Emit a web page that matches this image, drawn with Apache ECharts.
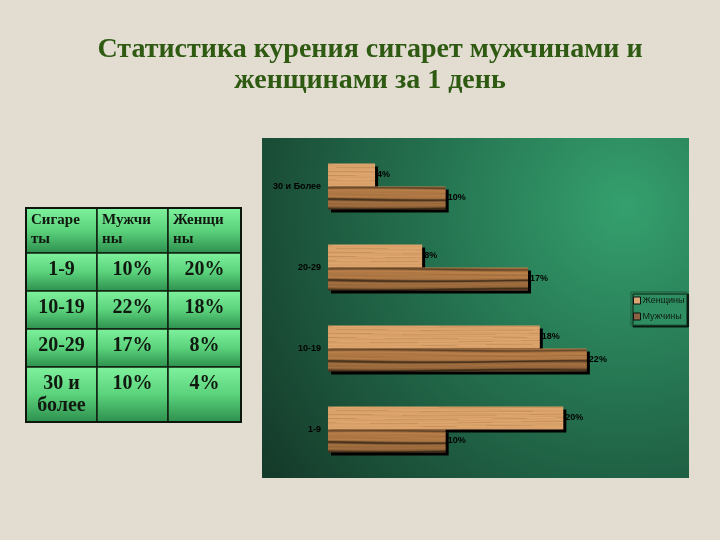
<!DOCTYPE html>
<html><head><meta charset="utf-8">
<script src="https://cdn.jsdelivr.net/npm/echarts@6/dist/echarts.min.js"></script>
<style>html,body{margin:0;padding:0;background:#e2dcd1}#c{width:720px;height:540px}</style>
</head><body><div id="c"></div>
<script>
// ---- data ----
var chartCategories = ['1-9', '10-19', '20-29', '30 и Более'];
var tableCategories = ['1-9', '10-19', '20-29', '30 и\nболее'];
var menValues = [10, 22, 17, 10];
var womenValues = [20, 18, 8, 4];
var seriesNames = ['Женщины', 'Мужчины'];
var tableHeaders = ['Сигаре\nты', 'Мужчи\nны', 'Женщи\nны'];
var titleText = 'Статистика курения сигарет мужчинами и\nженщинами за 1 день';

// ---- wood textures (decoration only) ----
function makeWood(kind) {
  var w = 640, h = 81;
  var cv = document.createElement('canvas'); cv.width = w; cv.height = h;
  var ctx = cv.getContext('2d');
  var img = ctx.createImageData(w, h);
  var off = kind === 'w' ? 1.5 : 24.5;
  for (var y = 0; y < h; y++) {
    for (var x = 0; x < w; x++) {
      var r = ((y - off) % h + h) % h;
      var rr = r + 0.7 * Math.sin(x * 0.021 + r * 0.15);
      var n = 0.5 * Math.sin(rr * 1.9 + 2 * Math.sin(x * 0.017 + rr * 0.3)) + 0.3 * Math.sin(rr * 4.3 + x * 0.011);
      var R, G, B;
      if (kind === 'w') {
        R = 218; G = 162; B = 106;
        var k = n * 8;
        var line = Math.abs(Math.sin(rr * 0.83 + x * 0.003));
        if (line > 0.97) k -= 16;
        R += k; G += k * 0.85; B += k * 0.7;
      } else {
        R = 190; G = 130; B = 74;
        function g(c, s) { return Math.exp(-((rr - c) * (rr - c)) / (2 * s * s)); }
        var d = 0.45 * g(1.2, 1.0) + 0.55 * g(12.5, 1.0) + 0.6 * g(21.5, 1.2) + 0.18 * g(17, 3) + 0.1 * g(7, 2);
        var k2 = n * 9;
        R = R * (1 - d) + k2; G = G * (1 - d) + k2 * 0.8; B = B * (1 - d) + k2 * 0.6;
      }
      var i = (y * w + x) * 4;
      img.data[i] = Math.max(0, Math.min(255, R));
      img.data[i + 1] = Math.max(0, Math.min(255, G));
      img.data[i + 2] = Math.max(0, Math.min(255, B));
      img.data[i + 3] = 255;
    }
  }
  ctx.putImageData(img, 0, 0);
  return cv;
}
var womenWood = { image: makeWood('w'), repeat: 'repeat' };
var menWood = { image: makeWood('m'), repeat: 'repeat' };

// ---- table graphics ----
var colX = [26, 97, 168, 241];
var rowY = [208, 253, 291, 329, 367, 422];
var graphics = [];
// green chart panel
graphics.push({
  type: 'rect', z: -10, silent: true,
  shape: { x: 262, y: 138, width: 427, height: 340 },
  style: {
    fill: { type: 'radial', x: 0.85, y: 0.2, r: 1.3,
      colorStops: [{ offset: 0, color: '#35a06e' }, { offset: 0.45, color: '#24714f' }, { offset: 1, color: '#153b2a' }] }
  }
});
function cellFill() {
  return { type: 'linear', x: 0, y: 0, x2: 0, y2: 1,
    colorStops: [{ offset: 0, color: '#80f29e' }, { offset: 0.5, color: '#5bd27c' }, { offset: 1, color: '#2c8e4c' }] };
}
for (var r = 0; r < rowY.length - 1; r++) {
  for (var c = 0; c < colX.length - 1; c++) {
    graphics.push({
      type: 'rect', silent: true,
      shape: { x: colX[c], y: rowY[r], width: colX[c + 1] - colX[c], height: rowY[r + 1] - rowY[r] },
      style: { fill: cellFill(), stroke: '#102010', lineWidth: 1.5 }
    });
  }
}
graphics.push({
  type: 'rect', silent: true,
  shape: { x: colX[0], y: rowY[0], width: colX[3] - colX[0], height: rowY[5] - rowY[0] },
  style: { fill: null, stroke: '#0c160c', lineWidth: 2 }
});
for (var c = 0; c < 3; c++) {
  graphics.push({
    type: 'text', silent: true,
    style: { text: tableHeaders[c], x: colX[c] + 5, y: rowY[0] + 3, align: 'left', verticalAlign: 'top',
      font: 'bold 15px "Liberation Serif", serif', lineHeight: 19, fill: '#101810' }
  });
}
for (var i = 0; i < tableCategories.length; i++) {
  var vals = [tableCategories[i], menValues[i] + '%', womenValues[i] + '%'];
  for (var c = 0; c < 3; c++) {
    graphics.push({
      type: 'text', silent: true,
      style: { text: vals[c], x: (colX[c] + colX[c + 1]) / 2, y: rowY[i + 1] + 6, align: 'center', verticalAlign: 'top',
        font: 'bold 20px "Liberation Serif", serif', lineHeight: 22, fill: '#101810' }
    });
  }
}

var chart = echarts.init(document.getElementById('c'));
chart.setOption({
  animation: false,
  backgroundColor: '#e2dcd1',
  title: {
    text: titleText, left: 365, top: 29, textAlign: 'center',
    textStyle: { fontFamily: '"Liberation Serif", serif', fontWeight: 'bold', fontSize: 28, color: '#2e5a12', lineHeight: 31 }
  },
  graphic: graphics,
  legend: {
    orient: 'vertical', left: 631, top: 292, padding: [4, 2, 4, 2], itemGap: 7,
    itemWidth: 7, itemHeight: 7, icon: 'rect',
    backgroundColor: '#2f8e61', borderColor: '#1c5a3c', borderWidth: 1,
    shadowColor: '#0a1a10', shadowOffsetX: 2, shadowOffsetY: 2, shadowBlur: 0,
    textStyle: { fontFamily: 'Arial, "Liberation Sans"', fontSize: 9, color: '#0e1a12', padding: [0, 0, 0, -3] },
    data: [
      { name: seriesNames[0], itemStyle: { color: '#d9a874', borderColor: '#111', borderWidth: 1 } },
      { name: seriesNames[1], itemStyle: { color: '#8a6442', borderColor: '#111', borderWidth: 1 } }
    ]
  },
  grid: { left: 328, right: 39, top: 146, bottom: 70, containLabel: false },
  xAxis: { type: 'value', min: 0, max: 30, show: false, splitLine: { show: false } },
  yAxis: {
    type: 'category', data: chartCategories,
    axisLine: { show: false },
    axisTick: { show: false },
    axisLabel: { margin: 7, fontFamily: 'Arial, "Liberation Sans"', fontWeight: 'bold', fontSize: 9, color: '#000' }
  },
  series: [
    {
      name: seriesNames[0], type: 'bar', data: womenValues, barWidth: 23, barGap: '0%',
      itemStyle: { color: womenWood, shadowColor: '#000', shadowOffsetX: 3, shadowOffsetY: 3, shadowBlur: 0 },
      label: { show: true, position: 'right', distance: 2, formatter: '{c}%', fontFamily: 'Arial, "Liberation Sans"', fontWeight: 'bold', fontSize: 9, color: '#000' }
    },
    {
      name: seriesNames[1], type: 'bar', data: menValues, barWidth: 23, barGap: '0%',
      itemStyle: { color: menWood, shadowColor: '#000', shadowOffsetX: 3, shadowOffsetY: 3, shadowBlur: 0 },
      label: { show: true, position: 'right', distance: 2, formatter: '{c}%', fontFamily: 'Arial, "Liberation Sans"', fontWeight: 'bold', fontSize: 9, color: '#000' }
    }
  ]
});
</script>
</body></html>
